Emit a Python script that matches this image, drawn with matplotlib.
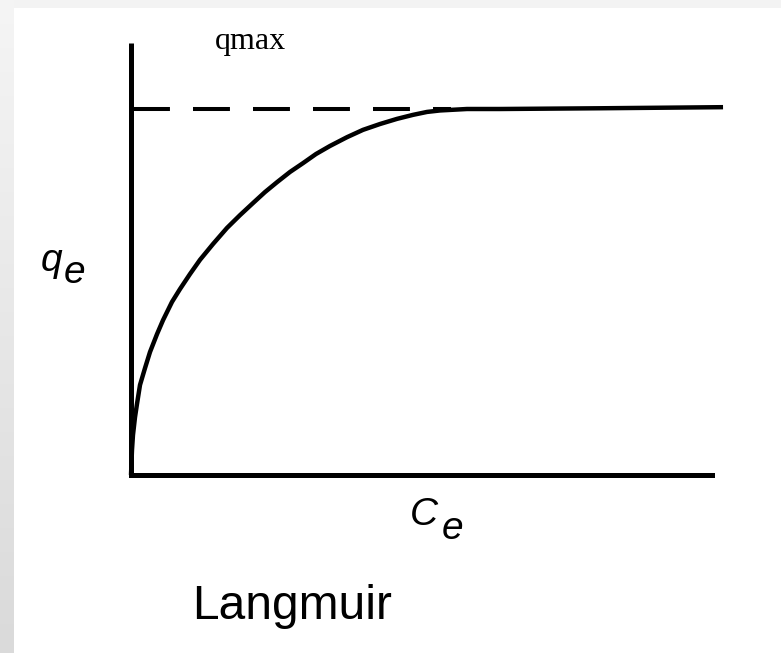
import numpy as np
import matplotlib
matplotlib.use("Agg")
import matplotlib.pyplot as plt
from matplotlib.patches import Rectangle

# Isoterma de Langmuir (valores normalizados: qe / qmax contra Ce)
ce = [0.0, 0.0017, 0.0034, 0.0069, 0.0103, 0.0155, 0.0241, 0.0327, 0.0448,
      0.0551, 0.0706, 0.0843, 0.1015, 0.1188, 0.1411, 0.1652, 0.1876, 0.2100,
      0.2306, 0.2513, 0.2737, 0.2960, 0.3184, 0.3425, 0.3718, 0.3993, 0.4286,
      0.4578, 0.4854, 0.5095, 0.5318, 0.5783, 0.635, 0.807, 1.019]
qe = [0.0, 0.068, 0.109, 0.158, 0.194, 0.246, 0.292, 0.336, 0.385,
      0.423, 0.473, 0.508, 0.549, 0.588, 0.631, 0.675, 0.710, 0.743,
      0.773, 0.800, 0.828, 0.852, 0.877, 0.899, 0.923, 0.943, 0.959,
      0.973, 0.984, 0.992, 0.996, 1.0, 1.0, 1.002, 1.005]
qmax = 1.0
ce_qmax_fim = 0.55      # até onde vai a linha tracejada de qmax
eixo_y_topo = 1.18      # altura da linha do eixo vertical
eixo_x_fim = 1.0

W, H = 781, 653

plt.rcParams['lines.scale_dashes'] = False

fig = plt.figure(figsize=(W / 100, H / 100), dpi=100)
fig.patch.set_facecolor('white')

# Fundo: faixa cinza à esquerda (degradê) e no topo
bg = fig.add_axes([0, 0, 1, 1], zorder=-1)
bg.set_xlim(0, W)
bg.set_ylim(H, 0)
bg.axis('off')
grad = np.linspace(0.96, 0.855, 64).reshape(-1, 1)
bg.imshow(np.dstack([grad, grad, grad]), extent=(0, 14, H, 0), aspect='auto',
          interpolation='bilinear')
bg.add_patch(Rectangle((14, 0), W - 14, 8, color='#f3f3f3', lw=0))

# Eixos principais (origem do gráfico em px 131, 475)
ax = fig.add_axes([131 / W, (H - 475) / H, 581 / W, 366 / H])
ax.set_xlim(0, 1)
ax.set_ylim(0, 1)
ax.axis('off')

# Linhas dos eixos
ax.plot([0, 0], [0, eixo_y_topo], color='black', lw=3.6, clip_on=False,
        solid_capstyle='butt')
ax.plot([0, eixo_x_fim], [0, 0], color='black', lw=3.6, clip_on=False,
        solid_capstyle='projecting')

# qmax tracejado
ax.plot([0.003, ce_qmax_fim], [qmax, qmax], color='black', lw=2.9,
        dashes=(26.6, 16.6), dash_capstyle='butt', clip_on=False)

# Curva
ax.plot(ce, qe, color='black', lw=3.2, clip_on=False,
        solid_joinstyle='round', solid_capstyle='butt')

# Textos
ax.text(0.205, 1.164, 'qmax', family='Liberation Serif', fontsize=23,
        ha='center', va='baseline')
sans_it = dict(family='Liberation Sans', style='italic', fontsize=28,
               ha='left', va='baseline')
ax.text(-0.155, 0.557, 'q', **sans_it)
ax.text(-0.116, 0.525, 'e', **sans_it)
ax.text(0.480, -0.137, 'C', **sans_it)
ax.text(0.535, -0.175, 'e', **sans_it)
ax.text(0.277, -0.393, 'Langmuir', family='Liberation Sans', fontsize=34.5,
        ha='center', va='baseline')

fig.savefig('out.png', dpi=100)
